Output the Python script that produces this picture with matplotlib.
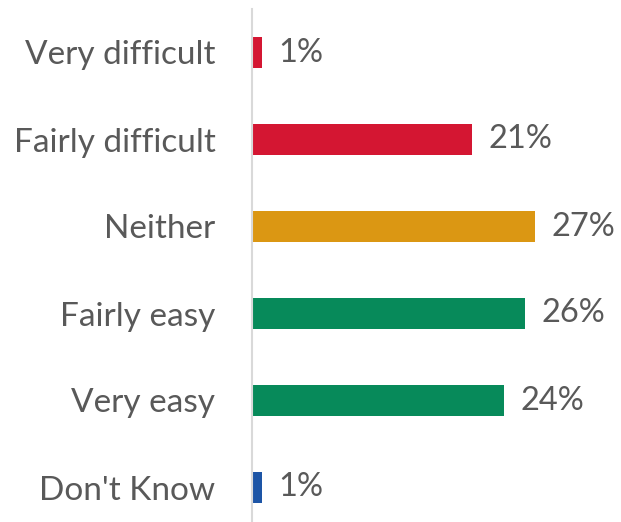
import matplotlib
matplotlib.use("Agg")
import matplotlib.pyplot as plt

categories = ["Very difficult", "Fairly difficult", "Neither", "Fairly easy", "Very easy", "Don't Know"]
values = [1, 21, 27, 26, 24, 1]
colors = ["#D41632", "#D41632", "#DB9713", "#078A5A", "#078A5A", "#1D55A6"]

plt.rcParams["font.family"] = ["Lato", "DejaVu Sans"]
TXT = "#595959"

fig = plt.figure(figsize=(6.21, 5.22), dpi=100)
ax = fig.add_axes([251.5 / 621, -9 / 522, 367.5 / 621, 1.0])

ypos = list(range(len(categories)))
ax.barh(ypos, values, height=0.356, color=colors)
for y, v in zip(ypos, values):
    ax.annotate(f"{v}%", (v, y), xytext=(12, 0), textcoords="offset points",
                ha="left", va="center", fontsize=23.5, color=TXT)

ax.set_xlim(0, 35)
ax.set_ylim(5.5, -0.5)
ax.set_yticks(ypos)
ax.set_yticklabels(categories, fontsize=24, color=TXT)
ax.tick_params(axis="y", length=0, pad=26)
ax.set_xticks([])
for s in ("top", "right", "bottom"):
    ax.spines[s].set_visible(False)
ax.spines["left"].set_color("#D9D9D9")
ax.spines["left"].set_linewidth(1.5)

fig.savefig("out.png", dpi=100)
